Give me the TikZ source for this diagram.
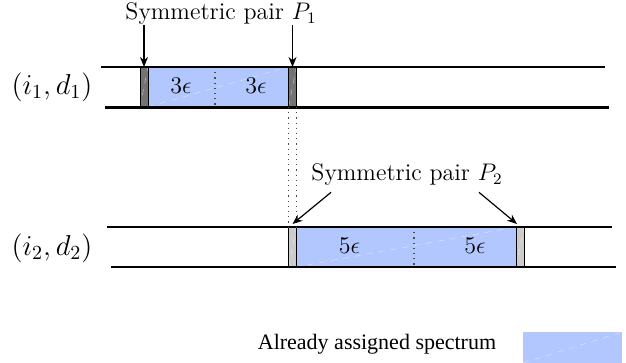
\documentclass[tikz,border=0pt]{standalone}
\usepackage{fontspec}
\newfontfamily\legendfont{Liberation Serif}
\usepackage{xcolor}
\usepackage{tikz}
\usetikzlibrary{arrows.meta,positioning,calc}
\definecolor{spec}{RGB}{179,199,255}

\begin{document}
\begin{tikzpicture}[
  x=0.5pt, y=-0.5pt,
  font=\large,
  lane/.style={line width=1.3pt},
  slot/.style={minimum height=20pt, inner sep=0pt, outer sep=0pt,
    path picture={\draw[white, opacity=0.45, dashed, line width=0.3pt]
      (path picture bounding box.south west) -- (path picture bounding box.north east);}},
  used/.style={slot, fill=spec},
  guard/.style={slot, draw=black, line width=0.5pt, minimum width=4pt},
  darkguard/.style={guard, fill=black!55},
  lightguard/.style={guard, fill=black!20},
  split/.style={dotted, black!70, line width=0.6pt},
  msg/.style={-{Stealth[length=5pt,width=4pt]}, semithick},
  lbl/.style={font=\Large},
  epslabel/.style={font=\fontsize{13}{15}\selectfont},
  pairtxt/.style={inner sep=0pt}
]
\useasboundingbox (0,0) rectangle (626,363);

% lane (i1,d1)
\node[used, minimum width=70pt] (u1) at (218,87) {};
\node[darkguard] (g1l) at (144,87) {};
\node[darkguard] (g1r) at (292.5,87) {};
\draw[split] (215,67) -- (215,107);
\node[epslabel] (e11) at (181,86) {$3\epsilon$};
\node[epslabel] (e12) at (256,86) {$3\epsilon$};

% lane (i2,d2)
\node[used, minimum width=110pt] (u2) at (406,247) {};
\node[lightguard] (g2l) at (292.5,247) {};
\node[lightguard] (g2r) at (520,247) {};
\draw[split] (414,227) -- (414,267);
\node[epslabel] (e21) at (349.5,246) {$5\epsilon$};
\node[epslabel] (e22) at (475,246) {$5\epsilon$};

\draw[lane] (101,67) -- (605,67);
\draw[lane] (105,107.5) -- (609,107.5);
\draw[lane] (107,227) -- (612,227);
\draw[lane] (111,267) -- (616,267);

\node[lbl] (l1) at (52,87) {$(i_1,d_1)$};
\node[lbl] (l2) at (52,248) {$(i_2,d_2)$};

% between the lanes
\draw[split] (g1r.south west) -- (g2l.north west);
\draw[split] (g1r.south east) -- (g2l.north east);

% symmetric pairs
\node[pairtxt] (p1) at (221,14) {Symmetric pair $P_1$};
\draw[msg] (p1.south -| g1l.north) -- (g1l.north);
\draw[msg] (p1.south -| g1r.north) -- (g1r.north);

\node[pairtxt] (p2) at (407,175) {Symmetric pair $P_2$};
\draw[msg] ($(p2.south west)+(20,6)$) -- ($(g2l.north)+(0,-3)$);
\draw[msg] ($(p2.south east)+(-24,6)$) -- ($(g2r.north)+(-3,-3)$);

% legend
\node[font=\legendfont\fontsize{11}{13}\selectfont] (leg) at (377,344) {Already assigned spectrum};
\node[used, minimum width=49.5pt, minimum height=15.5pt] (legbox) at (572.5,347.5) {};

\end{tikzpicture}
\end{document}
